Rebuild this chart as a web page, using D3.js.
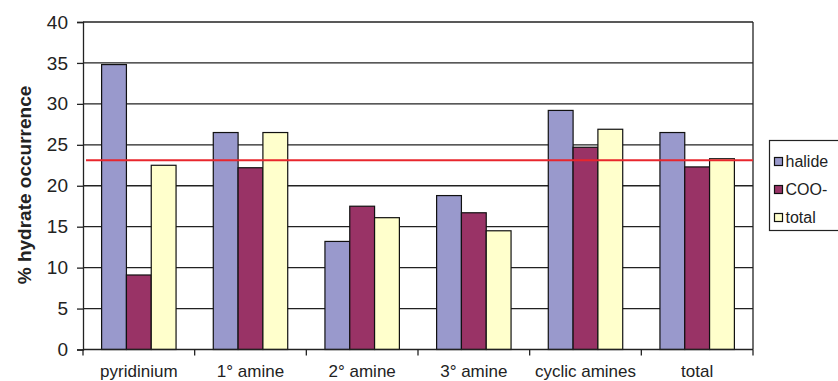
<!DOCTYPE html>
<html>
<head>
<meta charset="utf-8">
<script src="https://cdn.jsdelivr.net/npm/d3@7"></script>
<style>
  html, body { margin: 0; padding: 0; background: #fff; }
  svg { display: block; font-family: "Liberation Sans", Arial, sans-serif; }
</style>
</head>
<body>
<svg id="chart" width="838" height="381"></svg>
<script>
// Hydrate occurrence by amine/counter-ion class
const categories = ["pyridinium", "1° amine", "2° amine", "3° amine", "cyclic amines", "total"];
const seriesNames = ["halide", "COO-", "total"];
const halide = [34.8, 26.5, 13.2, 18.8, 29.2, 26.5];
const carboxylate = [9.1, 22.2, 17.5, 16.7, 24.7, 22.3];
const overall = [22.5, 26.5, 16.1, 14.5, 26.9, 23.3];
const yTicks = [0, 5, 10, 15, 20, 25, 30, 35, 40];
const averageLine = 23.1;
const colors = ["#9999cc", "#993366", "#ffffcc"];

const seriesValues = [halide, carboxylate, overall];

const svg = d3.select("#chart");
const plot = { left: 83, right: 753, top: 22, bottom: 349.5 };

const x = d3.scaleBand().domain(categories).range([plot.left, plot.right]).paddingInner(0).paddingOuter(0);
const y = d3.scaleLinear().domain([0, 40]).range([plot.bottom, plot.top]);

// Excel-style gap width: bars fill 3 / 4.5 of each category
const inner = d3.scaleBand().domain(d3.range(3))
  .range([0, x.bandwidth()]).paddingInner(0).paddingOuter(0.75);

// horizontal gridlines
svg.append("g").selectAll("line").data(yTicks.filter(d => d > 0)).join("line")
  .attr("x1", plot.left).attr("x2", plot.right)
  .attr("y1", d => y(d)).attr("y2", d => y(d))
  .attr("stroke", "#222").attr("stroke-width", 1.3);

// right border of plot area
svg.append("line")
  .attr("x1", plot.right).attr("x2", plot.right)
  .attr("y1", plot.top).attr("y2", plot.bottom)
  .attr("stroke", "#222").attr("stroke-width", 1.3);

// bars
const rows = [];
categories.forEach((c, i) => seriesValues.forEach((vals, s) => rows.push({ c, s, v: vals[i] })));
svg.append("g").selectAll("rect").data(rows).join("rect")
  .attr("x", d => x(d.c) + inner(d.s))
  .attr("width", inner.bandwidth())
  .attr("y", d => y(d.v))
  .attr("height", d => y(0) - y(d.v))
  .attr("fill", d => colors[d.s])
  .attr("stroke", "#111").attr("stroke-width", 1.2);

// average reference line
svg.append("line")
  .attr("x1", plot.left + 3).attr("x2", plot.right)
  .attr("y1", y(averageLine)).attr("y2", y(averageLine))
  .attr("stroke", "#e8262d").attr("stroke-width", 2);

// y axis
const yAxis = d3.axisLeft(y).tickValues(yTicks).tickSize(6).tickPadding(9);
const gy = svg.append("g").attr("transform", `translate(${plot.left},0)`).call(yAxis);
gy.select(".domain").attr("stroke", "#222").attr("stroke-width", 1.3);
gy.selectAll(".tick line").attr("stroke", "#222").attr("stroke-width", 1.3);
gy.selectAll(".tick text").attr("font-size", 19).attr("fill", "#222")
  .attr("font-family", "Liberation Sans, Arial, sans-serif");

// x axis with ticks at category boundaries
const gx = svg.append("g").attr("transform", `translate(0,${plot.bottom})`);
gx.append("line").attr("x1", plot.left).attr("x2", plot.right)
  .attr("stroke", "#222").attr("stroke-width", 1.3);
const boundaries = categories.map(c => x(c)).concat([plot.right]);
gx.selectAll("line.tick").data(boundaries).join("line").attr("class", "tick")
  .attr("x1", d => d).attr("x2", d => d).attr("y1", 0).attr("y2", 6)
  .attr("stroke", "#222").attr("stroke-width", 1.3);
gx.selectAll("text").data(categories).join("text")
  .attr("x", d => x(d) + x.bandwidth() / 2)
  .attr("y", 27.5)
  .attr("text-anchor", "middle")
  .attr("font-size", 17).attr("fill", "#222")
  .text(d => d);

// y axis title
svg.append("text")
  .attr("transform", `translate(31,185) rotate(-90)`)
  .attr("text-anchor", "middle")
  .attr("font-size", 19).attr("font-weight", "bold").attr("fill", "#222")
  .text("% hydrate occurrence");

// legend
const legend = svg.append("g");
legend.append("rect")
  .attr("x", 769.5).attr("y", 140.5).attr("width", 80).attr("height", 90)
  .attr("fill", "#fff").attr("stroke", "#222").attr("stroke-width", 1.2);
const items = legend.selectAll("g.item").data(seriesNames).join("g").attr("class", "item")
  .attr("transform", (d, i) => `translate(774.5,${161.5 + i * 28})`);
items.append("rect")
  .attr("x", 0).attr("y", -4).attr("width", 8).attr("height", 8)
  .attr("fill", (d, i) => colors[i]).attr("stroke", "#111").attr("stroke-width", 1.2);
items.append("text")
  .attr("x", 11).attr("y", 5.5)
  .attr("font-size", 16).attr("fill", "#222")
  .text(d => d);
</script>
</body>
</html>
